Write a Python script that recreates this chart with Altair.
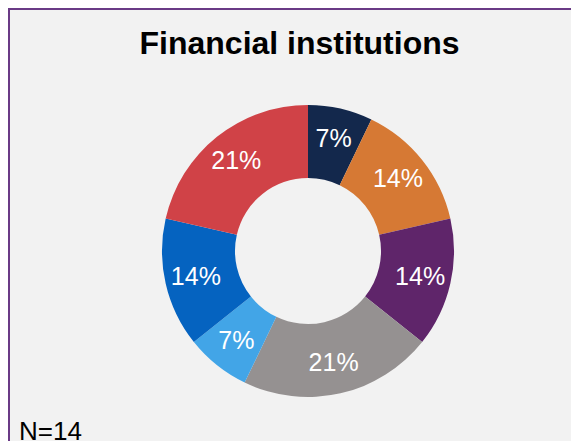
import altair as alt
import pandas as pd

categories = ["S1", "S2", "S3", "S4", "S5", "S6", "S7"]
counts = [1, 2, 2, 3, 1, 2, 3]
labels = ["7%", "14%", "14%", "21%", "7%", "14%", "21%"]
colors = ["#13284c", "#d67934", "#5f256a", "#959191", "#42a5e7", "#0563c0", "#d04247"]
title_text = "Financial institutions"
note_text = "N=14"

df = pd.DataFrame({
    "cat": categories,
    "count": counts,
    "label": labels,
    "idx": list(range(len(categories))),
})

W, H = 563, 433
CX, CY = 300, 243
FONT = "Arial, Liberation Sans, sans-serif"
BORDER = "#6a3a86"

base = alt.Chart(df).encode(
    theta=alt.Theta("count:Q", stack=True),
    order=alt.Order("idx:Q"),
    x=alt.value(CX),
    y=alt.value(CY),
)

arcs = base.mark_arc(outerRadius=146, innerRadius=73, stroke=None).encode(
    color=alt.Color("cat:N", scale=alt.Scale(domain=categories, range=colors), legend=None)
)

texts = base.mark_text(radius=115, fontSize=25, font=FONT, color="white",
                       align="center", baseline="middle").encode(
    text="label:N"
)

title = alt.Chart(pd.DataFrame({"t": [title_text]})).mark_text(
    fontSize=32, fontWeight="bold", font=FONT, color="black",
    align="center", baseline="alphabetic"
).encode(text="t:N", x=alt.value(291.5), y=alt.value(46))

note = alt.Chart(pd.DataFrame({"t": [note_text]})).mark_text(
    fontSize=26, font=FONT, color="black", align="left", baseline="alphabetic"
).encode(text="t:N", x=alt.value(11), y=alt.value(432))

top_border = alt.Chart(pd.DataFrame({"k": [0]})).mark_rule(
    color=BORDER, strokeWidth=2
).encode(x=alt.value(0), x2=alt.value(W), y=alt.value(1))

left_border = alt.Chart(pd.DataFrame({"k": [0]})).mark_rule(
    color=BORDER, strokeWidth=2
).encode(x=alt.value(1), y=alt.value(0), y2=alt.value(H))

chart = alt.layer(arcs, texts, title, note, top_border, left_border).properties(
    width=W, height=H,
    autosize=alt.AutoSizeParams(type="none"),
    padding=0,
    background="#f2f2f2",
).configure_view(
    stroke=None, fill="#f2f2f2"
)

chart.save("out.html", embed_options={"renderer": "svg", "actions": False})
